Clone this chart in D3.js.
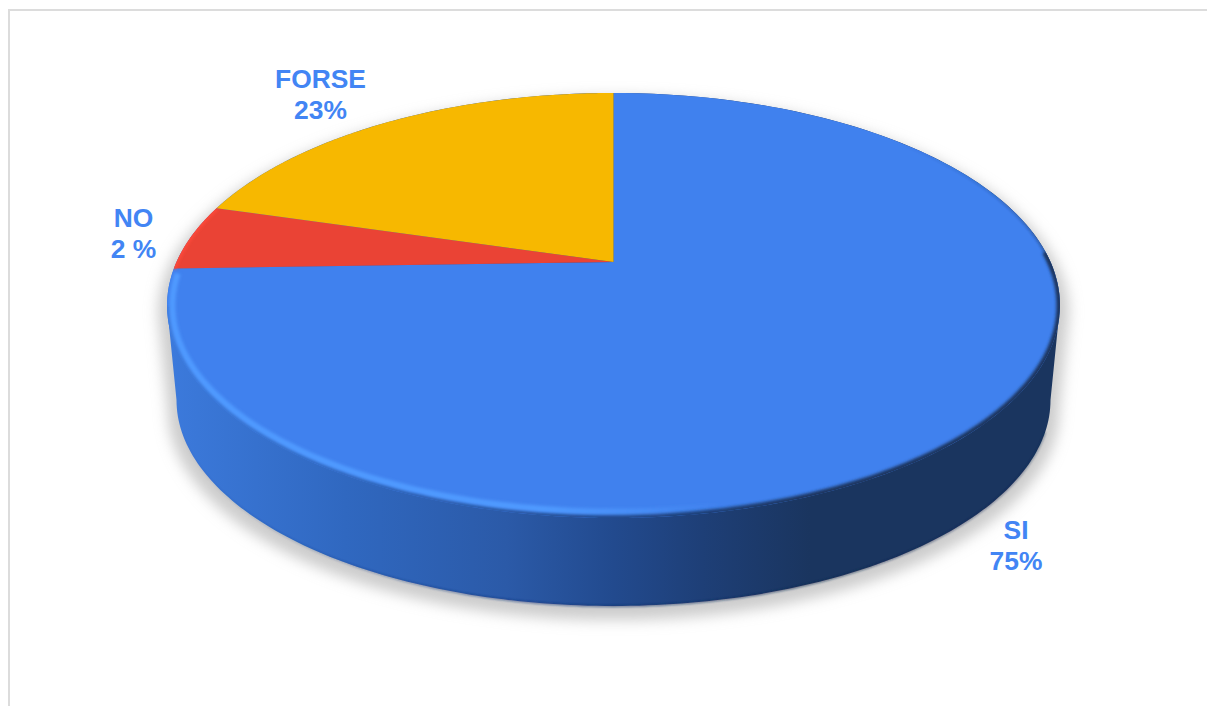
<!DOCTYPE html>
<html><head><meta charset="utf-8">
<script src="https://cdn.jsdelivr.net/npm/d3@7/dist/d3.min.js"></script>
<style>html,body{margin:0;padding:0;background:#fff;overflow:hidden}svg{display:block}</style>
</head><body><svg id="c" width="1207" height="706"></svg>
<script>
// Category names, printed labels and the wedge shares as actually drawn in the picture
const categories = ["SI", "NO", "FORSE"];
const printedLabels = ["75%", "2 %", "23%"];
const drawnShares = [74.5, 5, 20.5];
const sliceColors = ["#4081ee", "#ea4335", "#f7b800"];

const W = 1207, H = 706;
const apex = {x: 613.5, y: 262};
const R = 437, S = 203.6, K = 0.2047;
const base = {cx: 613.5, cy: 400, rx: 437, ry: 206};
const TAU = Math.PI * 2;

const svg = d3.select("#c");
const defs = svg.append("defs");

// angle 0 = top, clockwise; perspective projection of a unit disc
function proj(a) {
  const u = Math.sin(a), v = -Math.cos(a), w = 1 - K * v;
  return [apex.x + R * u / w, apex.y + S * v / w];
}
const lineGen = d3.line();
const sample = (a0, a1, n = 160) => d3.range(n + 1).map(i => proj(a0 + (a1 - a0) * i / n));
const basePt = a => [base.cx + base.rx * Math.sin(a), base.cy - base.ry * Math.cos(a)];
const sampleBase = (a0, a1, n = 160) => d3.range(n + 1).map(i => basePt(a0 + (a1 - a0) * i / n));
const inset = pts => pts.map(p => [613.5 + (p[0] - 613.5) * 0.988, 305.5 + (p[1] - 305.5) * 0.97]);

// widest points of the top rim
const rimAll = sample(0, TAU, 720);
const iR = d3.maxIndex(rimAll, d => d[0]), iL = d3.minIndex(rimAll, d => d[0]);
const aR = iR / 720 * TAU, aL = iL / 720 * TAU;

const bodyPts = [
  ...sample(aL - TAU, aR),
  ...sampleBase(Math.PI / 2, Math.PI * 1.5)
];

// defs
const grad = (id, stops) => {
  const g = defs.append("linearGradient").attr("id", id)
    .attr("gradientUnits", "userSpaceOnUse")
    .attr("x1", 167).attr("x2", 1060).attr("y1", 0).attr("y2", 0);
  stops.forEach(s => g.append("stop").attr("offset", s[0]).attr("stop-color", s[1]).attr("stop-opacity", s[2] ?? 1));
};
grad("side", [[0, "#3c7adc"], [0.2, "#3068c0"], [0.38, "#2b5aa8"], [0.5, "#224a8e"], [0.6, "#1e3f77"], [0.72, "#1a355f"], [1, "#1a355f"]]);
grad("hilite", [[0, "#4f9aff", 1], [0.42, "#4f9aff", 1], [0.52, "#4f9aff", 0.55], [0.62, "#4f9aff", 0]]);
grad("foot", [[0, "#17357a", 0], [0.16, "#17357a", 0.25], [0.4, "#17357a", 0.7], [0.72, "#12294e", 0.7], [1, "#12294e", 0.4]]);
const upper = defs.append("linearGradient").attr("id", "upperEdge")
  .attr("gradientUnits", "userSpaceOnUse").attr("x1", 0).attr("x2", 0).attr("y1", 140).attr("y2", 315);
upper.append("stop").attr("offset", 0).attr("stop-color", "#1a355f").attr("stop-opacity", 0);
upper.append("stop").attr("offset", 0.6).attr("stop-color", "#1a355f").attr("stop-opacity", 0.4);
upper.append("stop").attr("offset", 1).attr("stop-color", "#1a355f").attr("stop-opacity", 0.95);
const blurFilter = (id, s) => defs.append("filter").attr("id", id)
  .attr("x", "-10%").attr("y", "-10%").attr("width", "120%").attr("height", "120%")
  .append("feGaussianBlur").attr("stdDeviation", s);
blurFilter("bShadow", 7); blurFilter("bBevel", 1.6); blurFilter("bEdge", 0.8);
defs.append("clipPath").attr("id", "topClip").append("path").attr("d", lineGen(rimAll) + "Z");

// frame
svg.append("path").attr("d", `M9,${H}V10H${W}`).attr("fill", "none").attr("stroke", "#dcdcdc").attr("stroke-width", 2);

// soft shadow
svg.append("path")
  .attr("d", lineGen(bodyPts) + "Z")
  .attr("transform", `translate(${base.cx},${base.cy + 10}) scale(1.02,1.02) translate(${-base.cx},${-base.cy})`)
  .attr("fill", "#b0b0b0").attr("fill-opacity", 0.65).attr("filter", "url(#bShadow)");

// side wall
svg.append("path").attr("d", lineGen(bodyPts) + "Z").attr("fill", "url(#side)");
svg.append("path").attr("d", lineGen(sampleBase(Math.PI * 0.55, Math.PI * 1.45)))
  .attr("fill", "none").attr("stroke", "url(#foot)").attr("stroke-width", 1.8).attr("filter", "url(#bEdge)");

// wedges
const pie = d3.pie().sort(null).value(d => d);
const arcs = pie(drawnShares);
svg.append("g").selectAll("path.slice").data(arcs).join("path")
  .attr("class", "slice")
  .attr("d", d => lineGen([[apex.x, apex.y], ...sample(d.startAngle, d.endAngle)]) + "Z")
  .attr("fill", (d, i) => sliceColors[i]);

// bevel: soft rim blending into the wall, plus an inset highlight
const bevel = svg.append("g").attr("clip-path", "url(#topClip)");
bevel.append("path")
  .attr("d", lineGen(sample(0.85, Math.PI / 2 + 0.05)))
  .attr("fill", "none").attr("stroke", "url(#upperEdge)").attr("stroke-width", 4).attr("filter", "url(#bEdge)");
bevel.append("path")
  .attr("d", lineGen(sample(Math.PI / 2 - 0.05, aL)))
  .attr("fill", "none").attr("stroke", "url(#side)").attr("stroke-width", 7).attr("filter", "url(#bBevel)");
bevel.append("path")
  .attr("d", lineGen(inset(sample(Math.PI * 0.75, arcs[0].endAngle - 0.02))))
  .attr("fill", "none").attr("stroke", "url(#hilite)").attr("stroke-width", 6).attr("filter", "url(#bBevel)");
bevel.append("path")
  .attr("d", lineGen(sample(arcs[1].startAngle, arcs[1].endAngle, 30)))
  .attr("fill", "none").attr("stroke", "#ff4a3a").attr("stroke-width", 4).attr("filter", "url(#bBevel)");

// labels
const labelPos = [[1016, 539], [133.5, 227], [320.5, 88]];
const lab = svg.append("g").attr("font-family", "'Liberation Sans',Arial,sans-serif")
  .attr("font-weight", 700).attr("font-size", 26.4).attr("fill", "#4285f4").attr("text-anchor", "middle");
categories.forEach((c, i) => {
  const t = lab.append("text").attr("x", labelPos[i][0]).attr("y", labelPos[i][1]);
  t.append("tspan").attr("x", labelPos[i][0]).text(c);
  t.append("tspan").attr("x", labelPos[i][0]).attr("dy", 30.5).text(printedLabels[i]);
});
</script></body></html>
